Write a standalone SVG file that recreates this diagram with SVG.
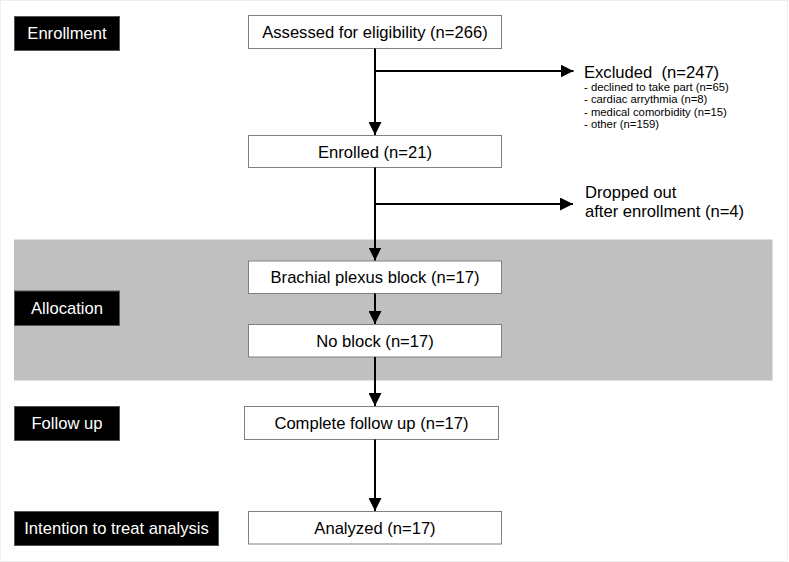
<svg xmlns="http://www.w3.org/2000/svg" width="789" height="562" viewBox="0 0 789 562">
<defs>
<marker id="ah" markerUnits="userSpaceOnUse" markerWidth="13" markerHeight="13" viewBox="0 0 12 12" refX="12" refY="6" orient="auto">
<polygon points="0,0 12,6 0,12" fill="#000"/>
</marker>
</defs>
<style>
text{font-family:"Liberation Sans",Arial,sans-serif;font-size:16.6px;fill:#000}
.lbl rect{fill:#000;stroke:#555;stroke-width:1}
.lbl text{fill:#fff;text-anchor:middle}
.box rect{fill:#fff;stroke:#808080;stroke-width:1}
.box text{text-anchor:middle}
.con path{fill:none;stroke:#000;stroke-width:2;marker-end:url(#ah)}
.small{font-size:11.3px}
</style>
<rect x="0" y="0" width="789" height="562" fill="#fff"/>
<rect x="0.5" y="0.5" width="787" height="561" fill="none" stroke="#eeeeee" stroke-width="1"/>
<rect id="band" x="14" y="239.5" width="758.5" height="141" fill="#c0c0c0"/>

<g id="lbl-enrollment" class="lbl"><rect x="14.5" y="16.5" width="105" height="34"/><text x="67" y="39.3">Enrollment</text></g>
<g id="lbl-allocation" class="lbl"><rect x="14.5" y="291" width="105" height="34.5"/><text x="67" y="314">Allocation</text></g>
<g id="lbl-followup" class="lbl"><rect x="14.5" y="406.5" width="105" height="34"/><text x="67" y="429.3">Follow up</text></g>
<g id="lbl-itt" class="lbl"><rect x="14.5" y="511.5" width="204" height="34"/><text x="116.5" y="534.3">Intention to treat analysis</text></g>

<g id="assessed" class="box"><rect x="248.5" y="15.5" width="253" height="33"/><text x="375" y="38.2">Assessed for eligibility (n=266)</text></g>
<g id="enrolled" class="box"><rect x="248.5" y="135.5" width="253" height="32"/><text x="375" y="157.7">Enrolled (n=21)</text></g>
<g id="brachial" class="box"><rect x="248.5" y="261" width="253" height="32.5"/><text x="375" y="283.2">Brachial plexus block (n=17)</text></g>
<g id="noblock" class="box"><rect x="248.5" y="324.5" width="253" height="32.5"/><text x="375" y="346.7">No block (n=17)</text></g>
<g id="complete" class="box"><rect x="244.5" y="406.5" width="254" height="33"/><text x="371.5" y="429">Complete follow up (n=17)</text></g>
<g id="analyzed" class="box"><rect x="248.5" y="511.5" width="253" height="32.5"/><text x="375" y="533.7">Analyzed (n=17)</text></g>

<g id="excluded">
<text x="584" y="78.3" xml:space="preserve" style="white-space:pre">Excluded  (n=247)</text>
<text class="small" x="584" y="91">- declined to take part (n=65)</text>
<text class="small" x="584" y="103.3">- cardiac arrythmia (n=8)</text>
<text class="small" x="584" y="116">- medical comorbidity (n=15)</text>
<text class="small" x="584" y="128.3">- other (n=159)</text>
</g>
<g id="dropped">
<text x="585" y="198.3">Dropped out</text>
<text x="585" y="217.3">after enrollment (n=4)</text>
</g>

<g id="connectors" class="con">
<path d="M375,48.5 V135"/>
<path d="M375,71 H573.5"/>
<path d="M375,167.5 V260.5"/>
<path d="M375,204 H573"/>
<path d="M375,293.5 V324"/>
<path d="M375,357 V406"/>
<path d="M375,439.5 V511"/>
</g>
</svg>
